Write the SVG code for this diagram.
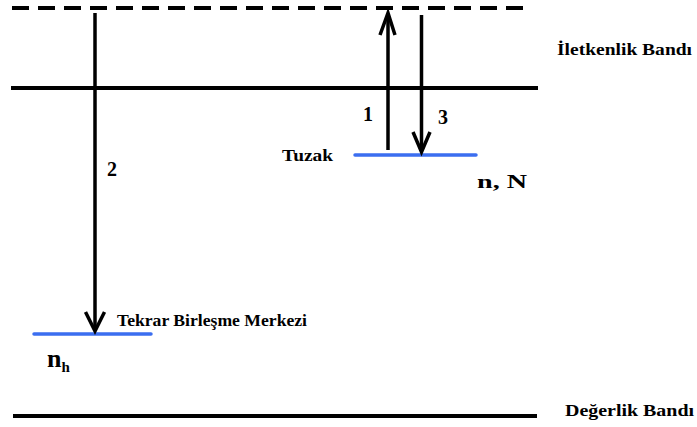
<svg xmlns="http://www.w3.org/2000/svg" width="697" height="427" viewBox="0 0 697 427">
<style>
.band{stroke:#000;stroke-width:4;fill:none}
.lvl{stroke:#3b6ef0;stroke-width:3.5;fill:none;stroke-linecap:round}
.arr{stroke:#000;stroke-width:3.5;fill:none;stroke-linejoin:miter}
.lbl{font-family:"Liberation Serif","Times New Roman",serif;font-weight:bold;fill:#000}
.num{font-family:"Liberation Serif","Times New Roman",serif;font-weight:bold;fill:#000;font-size:20px}
</style>
<rect width="697" height="427" fill="#fff"/>
<g id="conduction-band">
<line class="band" x1="12" y1="8" x2="530" y2="8" stroke-dasharray="17,9"/>
<line class="band" x1="11" y1="88" x2="538" y2="88"/>
<text class="lbl" x="557" y="55" font-size="16" textLength="135" lengthAdjust="spacingAndGlyphs">İletkenlik Bandı</text>
</g>
<g id="valence-band">
<line class="band" x1="13" y1="416" x2="537" y2="416"/>
<text class="lbl" x="565" y="416" font-size="16" textLength="129" lengthAdjust="spacingAndGlyphs">Değerlik Bandı</text>
</g>
<g id="trap">
<line class="lvl" x1="355" y1="155" x2="476" y2="155"/>
<text class="lbl" x="282" y="161" font-size="16" textLength="51" lengthAdjust="spacingAndGlyphs">Tuzak</text>
<text class="lbl" x="477" y="188" font-size="19" textLength="50" lengthAdjust="spacingAndGlyphs">n, N</text>
</g>
<g id="recombination-center">
<line class="lvl" x1="34" y1="334" x2="151" y2="334"/>
<text class="lbl" x="117" y="326" font-size="16" textLength="190" lengthAdjust="spacingAndGlyphs">Tekrar Birleşme Merkezi</text>
<text class="lbl" x="47" y="367" font-size="26">n<tspan font-size="15" dy="5">h</tspan></text>
</g>
<g id="connectors">
<line class="arr" x1="95" y1="13" x2="95" y2="329"/>
<polyline class="arr" points="85.5,312 95,331 104.5,312"/>
<text class="num" x="107" y="176">2</text>
<line class="arr" x1="388" y1="150" x2="388" y2="15"/>
<polyline class="arr" points="380,35 388,13 395,35"/>
<text class="num" x="363" y="121">1</text>
<line class="arr" x1="421.5" y1="15" x2="421.5" y2="150"/>
<polyline class="arr" points="413,132 421.5,152 430,132"/>
<text class="num" x="438" y="124">3</text>
</g>
</svg>
